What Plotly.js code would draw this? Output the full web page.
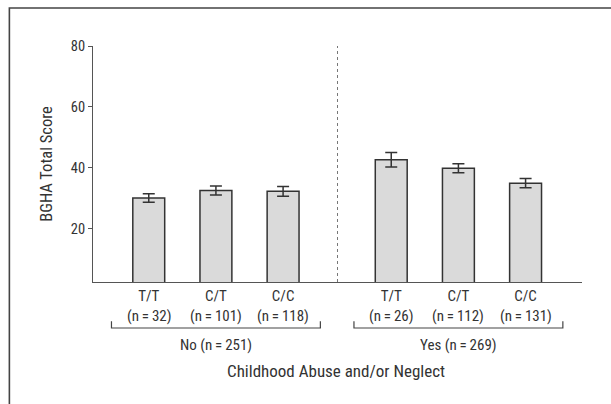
<!DOCTYPE html>
<html>
<head>
<meta charset="utf-8">
<script src="https://cdn.plot.ly/plotly-3.0.1.min.js"></script>
<style>html,body{margin:0;padding:0;background:#fff;}#chart{width:611px;height:404px;}</style>
</head>
<body>
<div id="chart"></div>
<script>
// ---- data ----
const genotypes = ["T/T", "C/T", "C/C", "T/T", "C/T", "C/C"];
const nLabels = ["(n\u2009=\u200932)", "(n\u2009=\u2009101)", "(n\u2009=\u2009118)", "(n\u2009=\u200926)", "(n\u2009=\u2009112)", "(n\u2009=\u2009131)"];
const xPos = [1, 2, 3, 4.61, 5.61, 6.61];
const scores = [30.0, 32.5, 32.2, 42.6, 39.8, 34.9];
const errors = [1.4, 1.5, 1.6, 2.4, 1.5, 1.5];
const groupLabels = ["No (n\u2009=\u2009251)", "Yes (n\u2009=\u2009269)"];
const groupCenters = [2, 5.61];
const yTicks = [20, 40, 60, 80];
const xTitle = "Childhood Abuse and/or Neglect";
const yTitle = "BGHA Total Score";

const FONT = "'Roboto Condensed', 'DejaVu Sans Condensed', sans-serif";
const TXT = "#333333";

const trace = {
  type: "bar",
  x: xPos,
  y: scores,
  width: 0.475,
  marker: {color: "#dadada", line: {color: "#333333", width: 1.5}},
  error_y: {type: "data", array: errors, visible: true, color: "#333333", thickness: 1.5, width: 6},
  hoverinfo: "none"
};

const shapes = [];
const annotations = [];
// n labels
for (let i = 0; i < xPos.length; i++) {
  annotations.push({x: xPos[i], xref: "x", y: -0.146, yref: "paper", text: nLabels[i], showarrow: false,
    xanchor: "center", yanchor: "middle", font: {family: FONT, size: 15, color: TXT}});
}
// brackets and group labels
for (let g = 0; g < groupCenters.length; g++) {
  const c = groupCenters[g];
  const x0 = c - 1.555, x1 = c + 1.555;
  shapes.push({type: "path", xref: "x", yref: "paper",
    path: `M ${x0} -0.166 L ${x0} -0.195 L ${x1} -0.195 L ${x1} -0.166`,
    line: {color: "#444444", width: 1.2}});
  annotations.push({x: c, xref: "x", y: -0.265, yref: "paper", text: groupLabels[g], showarrow: false,
    xanchor: "center", yanchor: "middle", font: {family: FONT, size: 15, color: TXT}});
}
// x title
annotations.push({x: (groupCenters[0] + groupCenters[1]) / 2 - 0.02, xref: "x", y: -0.378, yref: "paper", text: xTitle,
  showarrow: false, xanchor: "center", yanchor: "middle", font: {family: FONT, size: 17, color: TXT}});
// dotted divider
shapes.push({type: "line", xref: "x", yref: "y", x0: 3.81, x1: 3.81, y0: 2.4, y1: 80.3,
  line: {color: "#777777", width: 1, dash: "dot"}});
// outer frame
shapes.push({type: "path", xref: "paper", yref: "paper",
  path: "M -0.171 -0.7 L -0.171 1.161 L 1.2 1.161", line: {color: "#444444", width: 1.6}});

const layout = {
  width: 611, height: 404,
  margin: {l: 93, r: 29, t: 46, b: 122},
  paper_bgcolor: "#ffffff", plot_bgcolor: "#ffffff",
  showlegend: false,
  font: {family: FONT, color: TXT},
  xaxis: {
    range: [0.17, 7.45],
    tickvals: xPos, ticktext: genotypes,
    ticks: "", showgrid: false, zeroline: false,
    showline: true, linecolor: "#555555", linewidth: 1,
    tickfont: {family: FONT, size: 15, color: TXT},
    fixedrange: true
  },
  yaxis: {
    range: [2.4, 80],
    tickvals: yTicks,
    ticks: "outside", ticklen: 4, tickcolor: "#555555", tickwidth: 1,
    showgrid: false, zeroline: false,
    showline: true, linecolor: "#555555", linewidth: 1,
    tickfont: {family: FONT, size: 14.5, color: TXT},
    title: {text: yTitle, font: {family: FONT, size: 16.5, color: TXT}, standoff: 13},
    fixedrange: true
  },
  shapes: shapes,
  annotations: annotations
};

Plotly.newPlot("chart", [trace], layout, {displayModeBar: false, staticPlot: true});
</script>
</body>
</html>
